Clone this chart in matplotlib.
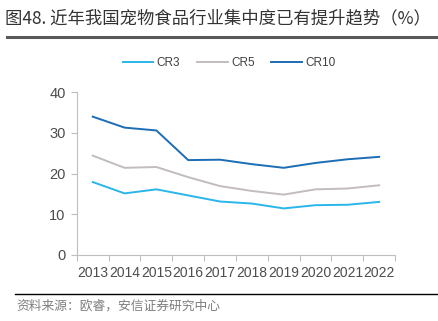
import matplotlib
matplotlib.use("Agg")
import matplotlib.pyplot as plt
from matplotlib.lines import Line2D

plt.rcParams['font.family'] = ['Liberation Sans', 'Noto Sans CJK SC', 'DejaVu Sans']

years = ['2013', '2014', '2015', '2016', '2017', '2018', '2019', '2020', '2021', '2022']
cr3 = [17.9, 15.1, 16.1, 14.6, 13.1, 12.6, 11.4, 12.2, 12.3, 13.0]
cr5 = [24.4, 21.4, 21.6, 19.1, 16.9, 15.7, 14.8, 16.1, 16.3, 17.1]
cr10 = [34.0, 31.3, 30.6, 23.3, 23.4, 22.3, 21.4, 22.6, 23.5, 24.1]

c3 = '#29B6EA'
c5 = '#C3BCBC'
c10 = '#1B6DB5'

fig = plt.figure(figsize=(4.39, 3.21), dpi=100)
ax = fig.add_axes([0.175, 0.2065, 0.725, 0.506])

x = list(range(len(years)))
ax.plot(x, cr3, color=c3, lw=1.4, label='CR3')
ax.plot(x, cr5, color=c5, lw=1.4, label='CR5')
ax.plot(x, cr10, color=c10, lw=1.4, label='CR10')

ax.set_xlim(-0.5, len(years) - 0.5)
ax.set_ylim(0, 40)
ax.set_yticks([0, 10, 20, 30, 40])
ax.set_xticks(x)
ax.set_xticklabels(years)
ax.set_xticks([i - 0.5 for i in range(len(years) + 1)], minor=True)
ax.tick_params(axis='x', which='major', length=0, pad=8, labelsize=10, labelcolor='#4D4D4D')
ax.tick_params(axis='x', which='minor', length=4, color='#BFBFBF', width=0.8)
ax.tick_params(axis='y', length=4, color='#BFBFBF', width=0.8, labelsize=10.5, labelcolor='#4D4D4D', pad=4)
for s in ['top', 'right']:
    ax.spines[s].set_visible(False)
for s in ['left', 'bottom']:
    ax.spines[s].set_color('#BFBFBF')
    ax.spines[s].set_linewidth(0.8)

handles = [Line2D([], [], color=c3, lw=1.4), Line2D([], [], color=c5, lw=1.4), Line2D([], [], color=c10, lw=1.4)]
fig.legend(handles, ['CR3', 'CR5', 'CR10'], loc='center', bbox_to_anchor=(0.522, 0.803), ncol=3,
           frameon=False, fontsize=8.5, handlelength=2.6, handletextpad=0.3, columnspacing=1.4,
           labelcolor='#404040')

fig.text(0.012, 0.944, '图48. 近年我国宠物食品行业集中度已有提升趋势（%）', fontsize=12.5,
         family=['Noto Sans CJK SC', 'DejaVu Sans'], color='#333333', va='center', ha='left')
fig.add_artist(Line2D([0.016, 0.995], [0.885, 0.885], color='#595959', lw=2.2))
fig.add_artist(Line2D([0.034, 0.995], [0.084, 0.084], color='#000000', lw=1.0))
fig.text(0.038, 0.048, '资料来源：欧睿，安信证券研究中心', fontsize=9.2, style='italic',
         family=['Noto Sans CJK SC', 'DejaVu Sans'], color='#7F7F7F', va='center', ha='left')

fig.savefig('out.png', dpi=100)
